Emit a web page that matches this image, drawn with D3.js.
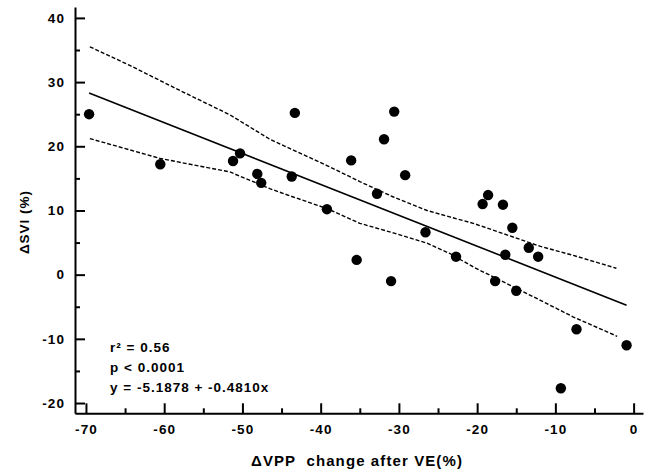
<!DOCTYPE html>
<html>
<head>
<meta charset="utf-8">
<script src="https://cdn.jsdelivr.net/npm/d3@7"></script>
<style>
  body { margin: 0; background: #fff; }
  svg text { font-family: "Liberation Sans", Arial, sans-serif; font-weight: bold; fill: #000; white-space: pre; }
</style>
</head>
<body>
<svg id="canvas" width="654" height="476"></svg>
<script>
// points: x = dVPP change after VE (%), y = dSVI (%)
const vppChange = [-69.6, -60.5, -51.2, -50.3, -48.1, -47.6, -43.7, -43.3, -39.2, -36.1,
                   -35.4, -32.8, -31.9, -31.0, -30.6, -29.2, -26.6, -22.7, -19.3, -18.6,
                   -17.7, -16.7, -16.4, -15.5, -15.0, -13.4, -12.2, -9.3, -7.3, -0.9]
const sviChange = [25.0, 17.2, 17.7, 18.9, 15.7, 14.3, 15.3, 25.2, 10.2, 17.8,
                   2.3, 12.6, 21.1, -1.0, 25.4, 15.5, 6.6, 2.8, 11.0, 12.4,
                   -1.0, 10.9, 3.1, 7.3, -2.5, 4.2, 2.8, -17.7, -8.5, -11.0]

// regression line (from the printed equation) and its x extent
const intercept = -5.1878
const slope = -0.4810
const fitRange = [-69.6, -0.9]

// 95% confidence band
const upperX = [-69.5, -64.4, -58.0, -51.6, -46.5, -43.5, -39.2, -35.0, -30.7, -26.4, -23.5, -20.5, -16.2, -11.9, -7.7, -2.2]
const upperY = [35.5, 32.6, 28.7, 24.9, 21.1, 19.4, 17.0, 14.5, 12.1, 10.0, 9.0, 8.0, 6.2, 4.4, 3.0, 1.0]
const lowerX = [-69.5, -60.5, -51.6, -46.5, -43.5, -39.2, -35.0, -30.7, -26.4, -23.5, -20.5, -16.2, -11.9, -7.7, -2.1]
const lowerY = [21.2, 18.1, 16.0, 13.4, 12.1, 10.3, 8.0, 6.5, 4.9, 3.3, 1.2, -1.4, -4.0, -6.6, -9.6]

const xMajor = [-70, -60, -50, -40, -30, -20, -10, 0]
const xMinor = [-65, -55, -45, -35, -25, -15, -5]
const yMajor = [-20, -10, 0, 10, 20, 30, 40]
const yMinor = [-15, -5, 5, 15, 25, 35]

const statLines = ["r\u00B2 = 0.56", "p < 0.0001", "y = -5.1878 + -0.4810x"]

const svg = d3.select("#canvas")

const x = d3.scaleLinear().domain([-71.4, 1.2]).range([75, 643])
const y = d3.scaleLinear().domain([-21.6, 41.7]).range([413.3, 7])

// plain hyphen for negatives, like the original
const plain = d => String(d)

// axes, ticks pointing into the plot
svg.append("g")
    .attr("transform", "translate(0," + y.range()[0] + ")")
    .call(d3.axisBottom(x).tickValues(xMajor).tickFormat(plain).tickSize(-10).tickPadding(11).tickSizeOuter(0))
svg.append("g")
    .attr("transform", "translate(0," + y.range()[0] + ")")
    .call(d3.axisBottom(x).tickValues(xMinor).tickSize(-5).tickFormat("").tickSizeOuter(0))
    .select(".domain").remove()

svg.append("g")
    .attr("transform", "translate(" + x.range()[0] + ",0)")
    .call(d3.axisLeft(y).tickValues(yMajor).tickFormat(plain).tickSize(-10).tickPadding(10).tickSizeOuter(0))
svg.append("g")
    .attr("transform", "translate(" + x.range()[0] + ",0)")
    .call(d3.axisLeft(y).tickValues(yMinor).tickSize(-5).tickFormat("").tickSizeOuter(0))
    .select(".domain").remove()

svg.selectAll(".domain").attr("stroke", "#000").attr("stroke-width", 2)
svg.selectAll(".tick line").attr("stroke", "#000").attr("stroke-width", 2)
svg.selectAll(".tick text")
    .style("font-size", "13.5px")
    .style("letter-spacing", "1.1px")
    .style("font-family", "Liberation Sans, Arial, sans-serif")
    .style("font-weight", "bold")

// confidence band
const bandLine = d3.line().x(d => x(d[0])).y(d => y(d[1]))
const upper = upperX.map((v, i) => [v, upperY[i]])
const lower = lowerX.map((v, i) => [v, lowerY[i]])
svg.selectAll(".band")
    .data([upper, lower])
    .enter()
    .append("path")
    .attr("class", "band")
    .attr("d", bandLine)
    .attr("fill", "none")
    .attr("stroke", "#000")
    .attr("stroke-width", 1.4)
    .attr("stroke-dasharray", "4,2")

// regression line
svg.append("line")
    .attr("x1", x(fitRange[0])).attr("y1", y(intercept + slope * fitRange[0]))
    .attr("x2", x(fitRange[1])).attr("y2", y(intercept + slope * fitRange[1]))
    .attr("stroke", "#000")
    .attr("stroke-width", 1.6)

// points
svg.selectAll(".pt")
    .data(vppChange.map((v, i) => [v, sviChange[i]]))
    .enter()
    .append("circle")
    .attr("class", "pt")
    .attr("cx", d => x(d[0]))
    .attr("cy", d => y(d[1]))
    .attr("r", 5.2)
    .attr("fill", "#000")

// stats
svg.selectAll(".stat")
    .data(statLines)
    .enter()
    .append("text")
    .attr("class", "stat")
    .attr("x", 110)
    .attr("y", (d, i) => 352 + i * 20)
    .style("font-size", "13.5px")
    .style("letter-spacing", "1px")
    .text(d => d)

// axis titles
svg.append("text")
    .attr("x", 357)
    .attr("y", 466)
    .attr("text-anchor", "middle")
    .style("font-size", "15px")
    .style("letter-spacing", "1.1px")
    .text("\u0394VPP  change after VE(%)")

svg.append("text")
    .attr("transform", "translate(29,222) rotate(-90)")
    .attr("text-anchor", "middle")
    .style("font-size", "13.5px")
    .style("letter-spacing", "1px")
    .text("\u0394SVI (%)")
</script>
</body>
</html>
